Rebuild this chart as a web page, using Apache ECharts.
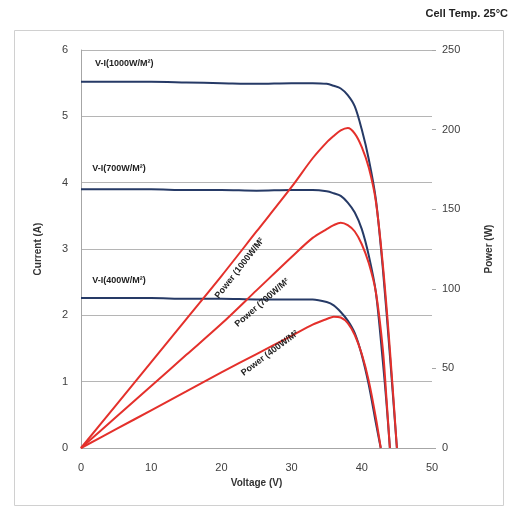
<!DOCTYPE html>
<html>
<head>
<meta charset="utf-8">
<script src="https://cdn.jsdelivr.net/npm/echarts@6/dist/echarts.min.js"></script>
<style>
  html, body { margin: 0; padding: 0; background: #ffffff; }
  #chart { width: 511px; height: 508px; }
</style>
</head>
<body>
<div id="chart"></div>
<script>
// Module characteristics at cell temperature 25 °C, three irradiance levels.
const voltage1000 = [0, 5, 10, 15, 20, 25, 30, 33, 35, 36, 37, 38, 39, 40, 41, 42, 43, 44, 45];
const current1000 = [5.52, 5.52, 5.52, 5.51, 5.50, 5.49, 5.50, 5.50, 5.49, 5.46, 5.42, 5.32, 5.15, 4.80, 4.35, 3.75, 2.70, 1.40, 0];
const power1000   = [0, 27, 54, 81, 108, 136, 164, 182, 192, 196, 199.5, 201, 197.5, 189, 176, 155, 115, 62, 0];

const voltage700 = [0, 5, 10, 15, 20, 25, 30, 33, 35, 36, 37, 38, 39, 40, 41, 42, 43, 43.5, 44];
const current700 = [3.90, 3.90, 3.90, 3.89, 3.89, 3.88, 3.89, 3.89, 3.87, 3.84, 3.80, 3.70, 3.55, 3.30, 2.90, 2.35, 1.30, 0.70, 0];
const power700   = [0, 19.5, 39, 58.5, 78, 99, 120, 132, 137.5, 140, 141.5, 140, 136, 128, 116, 98, 62, 32, 0];

const voltage400 = [0, 5, 10, 15, 20, 25, 30, 33, 35, 36, 37, 38, 39, 40, 41, 42, 42.7];
const current400 = [2.26, 2.26, 2.26, 2.25, 2.25, 2.24, 2.24, 2.24, 2.20, 2.15, 2.05, 1.92, 1.73, 1.40, 0.95, 0.38, 0];
const power400   = [0, 11.8, 23.7, 35.6, 47.5, 59, 70.5, 77.5, 81, 82.5, 82, 78.5, 71, 59, 42, 19, 0];

const voltageTicks = [0, 10, 20, 30, 40, 50];

// Curve annotations: text, anchor [V, current], rotation (deg), alignment
const curveLabels = [
  { text: 'V-I(1000W/M²)', at: [2.0, 5.80], rot: 0, align: 'left' },
  { text: 'V-I(700W/M²)', at: [1.6, 4.22], rot: 0, align: 'left' },
  { text: 'V-I(400W/M²)', at: [1.6, 2.52], rot: 0, align: 'left' },
  { text: 'Power (1000W/M²', at: [22.6, 2.71], rot: 52, align: 'center' },
  { text: 'Power (700W/M²', at: [25.8, 2.19], rot: 41, align: 'center' },
  { text: 'Power (400W/M²', at: [26.9, 1.43], rot: 37, align: 'center' }
];

const pairs = (xs, ys) => xs.map((x, i) => [x, ys[i]]);

const BLUE = '#263a66';
const RED = '#e4302b';
const FONT = '"Liberation Sans", Arial, sans-serif';

const chart = echarts.init(document.getElementById('chart'), null, { renderer: 'canvas' });

function curve(name, data, color, yAxisIndex) {
  return {
    name, type: 'line', data, yAxisIndex,
    showSymbol: false, smooth: 0.3,
    lineStyle: { color, width: 2 },
    itemStyle: { color },
    z: yAxisIndex === 1 ? 3 : 2,
    animation: false
  };
}

const option = {
  backgroundColor: '#ffffff',
  animation: false,
  grid: { left: 81, right: 79, top: 50, bottom: 60 },
  xAxis: {
    type: 'value', min: 0, max: 50, interval: 10,
    name: 'Voltage (V)', nameLocation: 'middle', nameGap: 24,
    nameTextStyle: { fontFamily: FONT, fontSize: 10, fontWeight: 'bold', color: '#333' },
    axisLine: { show: true, lineStyle: { color: '#a6a6a6' } },
    axisTick: { show: false },
    splitLine: { show: false },
    axisLabel: {
      fontFamily: FONT, fontSize: 11, color: '#404040', margin: 14,
      customValues: voltageTicks
    }
  },
  yAxis: [
    {
      type: 'value', min: 0, max: 6, interval: 1, position: 'left',
      name: 'Current (A)', nameLocation: 'middle', nameGap: 38, nameRotate: 90,
      nameTextStyle: { fontFamily: FONT, fontSize: 10, fontWeight: 'bold', color: '#333' },
      axisLine: { show: true, lineStyle: { color: '#a6a6a6' } },
      axisTick: { show: false },
      splitLine: { show: true, lineStyle: { color: '#b5b5b5', width: 1 } },
      axisLabel: { fontFamily: FONT, fontSize: 11, color: '#404040', margin: 13 }
    },
    {
      type: 'value', min: 0, max: 250, interval: 50, position: 'right',
      name: 'Power (W)', nameLocation: 'middle', nameGap: 52, nameRotate: 90,
      nameTextStyle: { fontFamily: FONT, fontSize: 10, fontWeight: 'bold', color: '#333' },
      axisLine: { show: false },
      axisTick: { show: true, length: 4, lineStyle: { color: '#a6a6a6' } },
      splitLine: { show: false },
      axisLabel: { fontFamily: FONT, fontSize: 11, color: '#404040', margin: 10 }
    }
  ],
  series: [
    curve('V-I 1000', pairs(voltage1000, current1000), BLUE, 0),
    curve('V-I 700', pairs(voltage700, current700), BLUE, 0),
    curve('V-I 400', pairs(voltage400, current400), BLUE, 0),
    curve('Power 1000', pairs(voltage1000, power1000), RED, 1),
    curve('Power 700', pairs(voltage700, power700), RED, 1),
    curve('Power 400', pairs(voltage400, power400), RED, 1)
  ]
};

chart.setOption(option);

// Frame, heading and curve annotations placed through the axes' scales
const graphics = [
  {
    type: 'rect', shape: { x: 14.5, y: 30.5, width: 489, height: 475 },
    style: { fill: null, stroke: '#d0d0d0', lineWidth: 1 }, z: -1, silent: true
  },
  {
    type: 'text', x: 508, y: 14,
    style: {
      text: 'Cell Temp. 25°C', fill: '#222', font: 'bold 11px ' + FONT,
      align: 'right', verticalAlign: 'middle'
    }
  }
];
curveLabels.forEach(l => {
  const p = chart.convertToPixel({ gridIndex: 0 }, l.at);
  graphics.push({
    type: 'text', x: p[0], y: p[1], rotation: l.rot * Math.PI / 180, z: 10,
    style: {
      text: l.text, fill: '#1e1e1e', font: 'bold 9px ' + FONT,
      align: l.align, verticalAlign: 'middle'
    }
  });
});
chart.setOption({ graphic: graphics });
</script>
</body>
</html>
